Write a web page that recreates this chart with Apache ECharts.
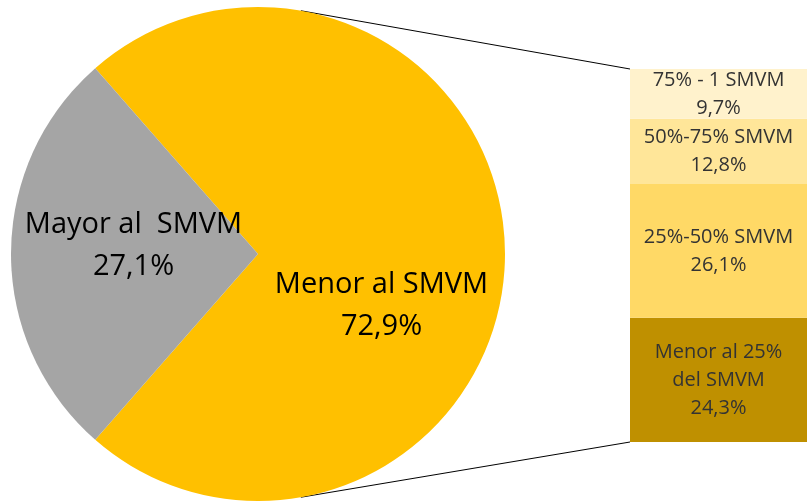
<!DOCTYPE html>
<html>
<head>
<meta charset="utf-8">
<script src="https://cdn.jsdelivr.net/npm/echarts@6/dist/echarts.min.js"></script>
<style>
  html, body { margin: 0; padding: 0; background: #fff; }
  #chart { width: 807px; height: 501px; }
</style>
</head>
<body>
<div id="chart"></div>
<script>
// pie: main split
const pieNames = ['Menor al SMVM', 'Mayor al  SMVM']
const pieValues = [72.9, 27.1]
const pieColors = ['#FFC000', '#A5A5A5']

// bar: breakdown of "Menor al SMVM", bottom to top
const barNames = ['Menor al 25%\ndel SMVM', '25%-50% SMVM', '50%-75% SMVM', '75% - 1 SMVM']
const barValues = [24.3, 26.1, 12.8, 9.7]
const barColors = ['#BF9000', '#FFD966', '#FFE699', '#FFF2CC']

const PIE_CX = 258
const PIE_CY = 254
const PIE_R = 247
const LINK_ANGLE = 80 // where connector lines leave the pie

const fmt = (v) => v.toFixed(1).replace('.', ',') + '%'

const total = pieValues.reduce((a, b) => a + b, 0)
const greyShare = pieValues[1] / total * 360
const barTotal = barValues.reduce((a, b) => a + b, 0)

const myChart = echarts.init(document.getElementById('chart'))

myChart.setOption({
  animation: false,
  textStyle: { fontFamily: 'Open Sans' },
  grid: {
    left: 630,
    top: 69,
    width: 180,
    height: 373
  },
  xAxis: {
    type: 'category',
    data: ['x'],
    show: false
  },
  yAxis: {
    type: 'value',
    min: 0,
    max: barTotal,
    show: false
  },
  series: [
    {
      type: 'pie',
      center: [PIE_CX, PIE_CY],
      radius: PIE_R,
      startAngle: 180 - greyShare / 2,
      clockwise: true,
      silent: true,
      label: {
        position: 'inside',
        color: '#000',
        fontSize: 29,
        lineHeight: 42,
        formatter: (p) => p.name + '\n' + fmt(p.value)
      },
      labelLine: { show: false },
      emphasis: { disabled: true },
      data: pieNames.map((name, i) => ({
        name,
        value: pieValues[i],
        itemStyle: { color: pieColors[i] },
        label: { offset: i === 0 ? [-3, 52] : [2, -8] }
      }))
    },
    ...barNames.map((name, i) => ({
      type: 'bar',
      name,
      stack: 'smvm',
      barWidth: '100%',
      silent: true,
      itemStyle: { color: barColors[i] },
      label: {
        show: true,
        position: 'inside',
        color: '#333',
        fontSize: 20,
        lineHeight: 28,
        formatter: (p) => p.seriesName + '\n' + fmt(p.value)
      },
      emphasis: { disabled: true },
      data: [barValues[i]]
    }))
  ]
})

// connector lines: pie edge -> bar corners
const a = LINK_ANGLE * Math.PI / 180
const topPie = [PIE_CX + PIE_R * Math.cos(a), PIE_CY - PIE_R * Math.sin(a)]
const botPie = [PIE_CX + PIE_R * Math.cos(a), PIE_CY + PIE_R * Math.sin(a)]
const barTop = myChart.convertToPixel({ gridIndex: 0 }, [0, barTotal])
const barBot = myChart.convertToPixel({ gridIndex: 0 }, [0, 0])
const barLeft = 630

myChart.setOption({
  graphic: [
    {
      type: 'line',
      shape: { x1: topPie[0], y1: topPie[1], x2: barLeft, y2: barTop[1] },
      style: { stroke: '#000', lineWidth: 1 }
    },
    {
      type: 'line',
      shape: { x1: botPie[0], y1: botPie[1], x2: barLeft, y2: barBot[1] },
      style: { stroke: '#000', lineWidth: 1 }
    }
  ]
})
</script>
</body>
</html>
